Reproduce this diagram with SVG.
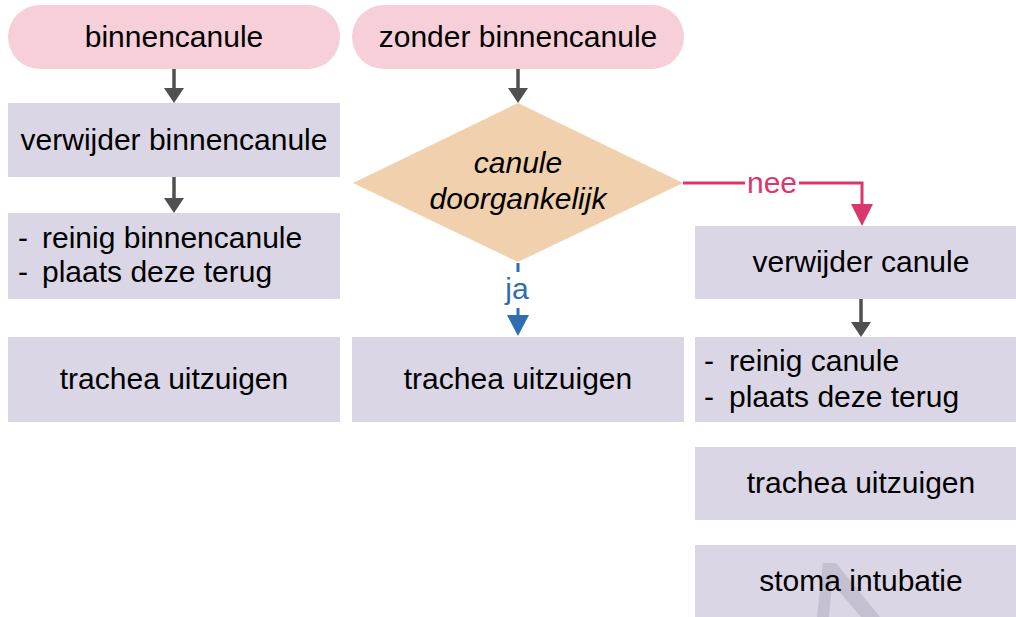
<svg xmlns="http://www.w3.org/2000/svg" width="1016" height="617" viewBox="0 0 1016 617">
<style>
text{font-family:"Liberation Sans",Arial,sans-serif;font-size:30px;fill:#000}
.c{text-anchor:middle}
.pill{fill:#f6cfd9}
.box{fill:#dad6e6}
.dia{fill:#f1d0ae}
.ln{stroke:#505050;stroke-width:3.5;fill:none}
.hd{fill:#505050}
</style>
<rect width="1016" height="617" fill="#fff"/>
<g id="n-binnencanule"><rect class="pill" x="8" y="5" width="332" height="64" rx="32"/><text class="c" x="174" y="47">binnencanule</text></g>
<g id="n-zonder"><rect class="pill" x="352" y="5" width="332" height="64" rx="32"/><text class="c" x="518" y="47">zonder binnencanule</text></g>
<g id="n-verwijder-binnen"><rect class="box" x="8" y="103" width="332" height="74"/><text class="c" x="174" y="150">verwijder binnencanule</text></g>
<g id="n-reinig-binnen"><rect class="box" x="8" y="213" width="332" height="86"/><text><tspan x="18" y="248">-</tspan><tspan x="42" y="248">reinig binnencanule</tspan></text><text><tspan x="18" y="282">-</tspan><tspan x="42" y="282">plaats deze terug</tspan></text></g>
<g id="n-trachea-1"><rect class="box" x="8" y="337" width="332" height="85"/><text class="c" x="174" y="389">trachea uitzuigen</text></g>
<g id="n-diamond"><polygon class="dia" points="518,103 683,183 518,262 353,183"/><text class="c" x="518" y="173" font-style="italic">canule</text><text class="c" x="518" y="209" font-style="italic">doorgankelijk</text></g>
<g id="n-trachea-2"><rect class="box" x="352" y="337" width="332" height="85"/><text class="c" x="518" y="389">trachea uitzuigen</text></g>
<g id="n-verwijder-canule"><rect class="box" x="695" y="226" width="321" height="73"/><text class="c" x="861" y="272">verwijder canule</text></g>
<g id="n-reinig-canule"><rect class="box" x="695" y="337" width="321" height="85"/><text><tspan x="704" y="371">-</tspan><tspan x="729" y="371">reinig canule</tspan></text><text><tspan x="704" y="407">-</tspan><tspan x="729" y="407">plaats deze terug</tspan></text></g>
<g id="n-trachea-3"><rect class="box" x="695" y="447" width="321" height="73"/><text class="c" x="861" y="493">trachea uitzuigen</text></g>
<g id="n-stoma"><rect class="box" x="695" y="545" width="321" height="72"/><polygon points="823,563 836,563 880,617 861,617 832,583 829,617 817,617" fill="#c4c0d2"/><text class="c" x="861" y="591">stoma intubatie</text></g>
<g id="connectors">
<line class="ln" x1="174" y1="69" x2="174" y2="89"/><polygon class="hd" points="164,88 184,88 174,103"/>
<line class="ln" x1="174" y1="177" x2="174" y2="199"/><polygon class="hd" points="164,198 184,198 174,213"/>
<line class="ln" x1="518" y1="69" x2="518" y2="89"/><polygon class="hd" points="508,88 528,88 518,103"/>
<line class="ln" x1="861" y1="299" x2="861" y2="323"/><polygon class="hd" points="851,322 871,322 861,337"/>
<polyline points="683,183 745,183" stroke="#d9376e" stroke-width="3" fill="none"/>
<polyline points="799,183 862,183 862,205" stroke="#d9376e" stroke-width="3" fill="none"/>
<polygon points="851,204 873,204 862,226" fill="#d9376e"/>
<text class="c" x="772" y="193" style="fill:#d9376e">nee</text>
<line x1="518" y1="263" x2="518" y2="272" stroke="#2e6db0" stroke-width="3"/>
<text class="c" x="517" y="299" style="fill:#2e6db0">ja</text>
<line x1="518" y1="308" x2="518" y2="316" stroke="#2e6db0" stroke-width="3"/>
<polygon points="507,315 529,315 518,336" fill="#2e6db0"/>
</g>
</svg>
